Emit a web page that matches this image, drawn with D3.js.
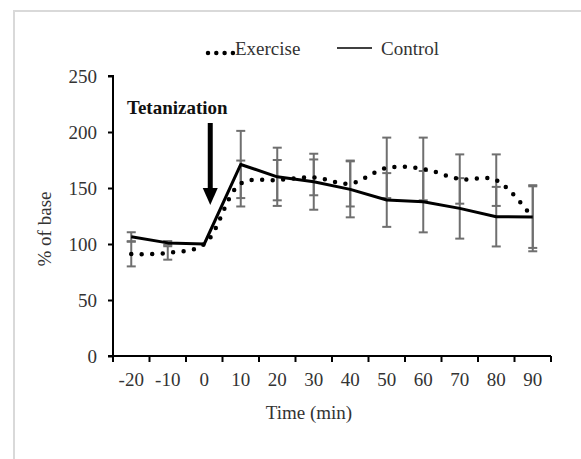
<!DOCTYPE html>
<html>
<head>
<meta charset="utf-8">
<script src="https://cdn.jsdelivr.net/npm/d3@7"></script>
<style>
  body { margin: 0; background: #fff; }
  text { font-family: "Liberation Serif", "Times New Roman", serif; }
</style>
</head>
<body>
<div class="canvas"></div>
<script>
// data
const times = ["-20", "-10", "0", "10", "20", "30", "40", "50", "60", "70", "80", "90"];
const exercise = [91, 92, 100, 154, 157, 159.5, 154, 168, 167, 158, 157, 123];
const exerciseErr = [11, 6, 0, 20.5, 18, 16, 20.5, 27, 28, 22, 23, 29.5];
const control = [106.5, 101, 100, 171, 160, 155.6, 148.8, 139.3, 137.8, 131.8, 124.4, 124];
const controlErr = [4, 1.6, 0, 30, 26, 25, 25, 24, 27.4, 27, 26.6, 27.5];
const yTicks = [0, 50, 100, 150, 200, 250];

const width = 581;
const height = 459;
const margin = { top: 76, right: 30, bottom: 103, left: 113 };

const svg = d3
  .select(".canvas")
  .append("svg")
  .attr("width", width)
  .attr("height", height);

// light frame
svg
  .append("rect")
  .attr("x", 14)
  .attr("y", 11)
  .attr("width", 700)
  .attr("height", 700)
  .attr("fill", "none")
  .attr("stroke", "#d9d9d9")
  .attr("stroke-width", 2);

// scales
const x = d3
  .scaleBand()
  .domain(times)
  .range([margin.left, 551])
  .paddingInner(0)
  .paddingOuter(0);
const cx = (d) => x(d) + x.bandwidth() / 2;

const y = d3.scaleLinear().domain([0, 250]).range([356, 76]);

// error bars
const bars = [];
times.forEach((t, i) => {
  bars.push({ t, v: exercise[i], e: exerciseErr[i] });
  bars.push({ t, v: control[i], e: controlErr[i] });
});

const errG = svg
  .append("g")
  .attr("stroke", "#6f6f6f")
  .attr("stroke-width", 2)
  .attr("fill", "none");

bars
  .filter((d) => d.e > 0)
  .forEach((d) => {
    const xc = cx(d.t);
    errG
      .append("line")
      .attr("x1", xc)
      .attr("x2", xc)
      .attr("y1", y(d.v - d.e))
      .attr("y2", y(d.v + d.e));
    [d.v - d.e, d.v + d.e].forEach((v) => {
      errG
        .append("line")
        .attr("x1", xc - 4.5)
        .attr("x2", xc + 4.5)
        .attr("y1", y(v))
        .attr("y2", y(v));
    });
  });

// control line
const lineStraight = d3
  .line()
  .x((d, i) => cx(times[i]))
  .y((d) => y(d));

svg
  .append("path")
  .datum(control)
  .attr("fill", "none")
  .attr("stroke", "#000")
  .attr("stroke-width", 3)
  .attr("stroke-linejoin", "round")
  .attr("d", lineStraight);

// exercise smoothed dotted line
const lineSmooth = d3
  .line()
  .x((d, i) => cx(times[i]))
  .y((d) => y(d))
  .curve(d3.curveCatmullRom.alpha(0.5));

svg
  .append("path")
  .datum(exercise)
  .attr("fill", "none")
  .attr("stroke", "#000")
  .attr("stroke-width", 4.5)
  .attr("stroke-linecap", "round")
  .attr("stroke-dasharray", "0 10.5")
  .attr("d", lineSmooth);

// y axis
const yAxis = d3.axisLeft(y).tickValues(yTicks).tickSize(5).tickPadding(11);
const yAxisGroup = svg
  .append("g")
  .attr("transform", `translate(${margin.left},0)`)
  .call(yAxis);

// x axis: labels in band centres, ticks at band edges
const xAxisGroup = svg.append("g").attr("transform", "translate(0,356)");
xAxisGroup
  .append("line")
  .attr("x1", margin.left - 5)
  .attr("x2", 551)
  .attr("stroke", "#000")
  .attr("stroke-width", 2);
xAxisGroup
  .selectAll(".tk")
  .data(times.map((t) => x(t)).concat([551]))
  .enter()
  .append("line")
  .attr("x1", (d) => d)
  .attr("x2", (d) => d)
  .attr("y1", 0)
  .attr("y2", 6)
  .attr("stroke", "#000")
  .attr("stroke-width", 2);
xAxisGroup
  .selectAll(".lbl")
  .data(times)
  .enter()
  .append("text")
  .attr("x", (d) => cx(d))
  .attr("y", 30)
  .attr("text-anchor", "middle")
  .attr("font-size", 19)
  .attr("fill", "#333")
  .text((d) => d);

yAxisGroup.select(".domain").attr("stroke-width", 2).attr("d", "M-5,76H0V357");
yAxisGroup.selectAll(".tick line").attr("stroke-width", 2);
yAxisGroup
  .selectAll("text")
  .attr("font-size", 19)
  .attr("font-family", "Liberation Serif")
  .attr("fill", "#333");

// axis titles
svg
  .append("text")
  .attr("x", 309)
  .attr("y", 419)
  .attr("text-anchor", "middle")
  .attr("font-size", 19)
  .attr("fill", "#333")
  .text("Time (min)");

svg
  .append("text")
  .attr("transform", "translate(51,229) rotate(-90)")
  .attr("text-anchor", "middle")
  .attr("font-size", 19)
  .attr("fill", "#333")
  .text("% of base");

// tetanization annotation
svg
  .append("text")
  .attr("x", 127)
  .attr("y", 114)
  .attr("font-size", 19)
  .attr("font-weight", "bold")
  .attr("fill", "#111")
  .text("Tetanization");

const ax = cx("0") + 6;
svg
  .append("line")
  .attr("x1", ax)
  .attr("x2", ax)
  .attr("y1", 123)
  .attr("y2", 190)
  .attr("stroke", "#000")
  .attr("stroke-width", 5);
svg
  .append("path")
  .attr("d", `M${ax - 7.5},188L${ax + 7.5},188L${ax},205Z`)
  .attr("fill", "#000");

// legend
const legend = svg.append("g");
legend
  .append("line")
  .attr("x1", 208)
  .attr("x2", 233)
  .attr("y1", 53)
  .attr("y2", 53)
  .attr("stroke", "#000")
  .attr("stroke-width", 4.5)
  .attr("stroke-linecap", "round")
  .attr("stroke-dasharray", "0 8.3");
legend
  .append("text")
  .attr("x", 235)
  .attr("y", 55)
  .attr("font-size", 19)
  .attr("fill", "#333")
  .text("Exercise");
legend
  .append("line")
  .attr("x1", 337)
  .attr("x2", 372)
  .attr("y1", 48)
  .attr("y2", 48)
  .attr("stroke", "#000")
  .attr("stroke-width", 1.5);
legend
  .append("text")
  .attr("x", 381)
  .attr("y", 55)
  .attr("font-size", 19)
  .attr("fill", "#333")
  .text("Control");
</script>
</body>
</html>
